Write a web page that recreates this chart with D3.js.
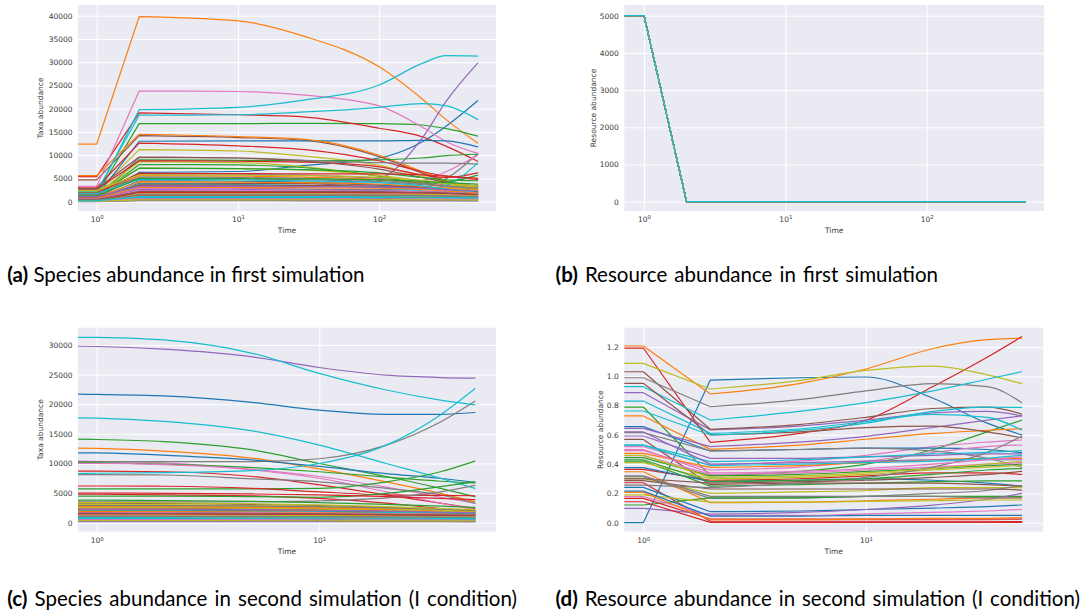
<!DOCTYPE html>
<html>
<head>
<meta charset="utf-8">
<script src="https://cdn.jsdelivr.net/npm/d3@7"></script>
<style>
  body { margin: 0; background: #ffffff; }
  svg { display: block; }
</style>
</head>
<body>
<svg id="fig" width="1089" height="612"></svg>
<script>
// matplotlib "tab10" colour cycle; series i takes colour i % 10
const palette = ["#1f77b4", "#ff7f0e", "#2ca02c", "#d62728", "#9467bd",
                 "#8c564b", "#e377c2", "#7f7f7f", "#bcbd22", "#17becf"];

// ---- first simulation: species (sampled times) ----
const timesA = [0, 1, 2, 10, 30, 100, 200, 300, 499];
const speciesRunA = [
  [800, 800, 6300, 6500, 7800, 9400, 12800, 16300, 21700],
  [12400, 12400, 39800, 38900, 35500, 29000, 22200, 17600, 12600],
  [1500, 1500, 16800, 16800, 16850, 16800, 16500, 15700, 14100],
  [5400, 5400, 19100, 18700, 18200, 15800, 14000, 11900, 8700],
  [900, 900, 1500, 2500, 3300, 5000, 13500, 21700, 29800],
  [4700, 4700, 14200, 13800, 13200, 9700, 6200, 4300, 2500],
  [3300, 3300, 23800, 23700, 22900, 20600, 16100, 12900, 10400],
  [600, 600, 3000, 2900, 2700, 2600, 3000, 5000, 10300],
  [2100, 2100, 11200, 10900, 9800, 7800, 5500, 4200, 3000],
  [1500, 1500, 19800, 20300, 21900, 25100, 29700, 31400, 31300],
  [1200, 1200, 13000, 13100, 13100, 13100, 13200, 13100, 11800],
  [5600, 5600, 14500, 14000, 13400, 10000, 6500, 4500, 2700],
  [1000, 1000, 9000, 8900, 8800, 9000, 9400, 9900, 10200],
  [3000, 3000, 12600, 12000, 11200, 8800, 6500, 5500, 4800],
  [700, 700, 6000, 5900, 5700, 5000, 4300, 3500, 2200],
  [400, 400, 4000, 3950, 3900, 3600, 3200, 2800, 2000],
  [300, 300, 2800, 2900, 3100, 3600, 4500, 6500, 10000],
  [800, 800, 9500, 9400, 8900, 8400, 8300, 8300, 8100],
  [1800, 1800, 8600, 8400, 7500, 5500, 4000, 3200, 2600],
  [2200, 2200, 18600, 18700, 19300, 20300, 21100, 20600, 17700],
  [600, 600, 4500, 4400, 4200, 3600, 2900, 2400, 1800],
  [1700, 1700, 5600, 5500, 5300, 4800, 4000, 3400, 2800],
  [1100, 1100, 8000, 7900, 7300, 5500, 4000, 4200, 5700],
  [2600, 2600, 8800, 8700, 8500, 7500, 5800, 5200, 6200],
  [500, 500, 2600, 2550, 2500, 2400, 2200, 2000, 1600],
  [2800, 2800, 9600, 9400, 8700, 7000, 5200, 4200, 3300],
  [1300, 1300, 3500, 3450, 3400, 3200, 2800, 2500, 2200],
  [2500, 2500, 5000, 4900, 4700, 4300, 3700, 3300, 3500],
  [2000, 2000, 7200, 7100, 6800, 5600, 4500, 3800, 3100],
  [700, 700, 3800, 3700, 3500, 3000, 2500, 3500, 8300],
  [300, 300, 2300, 2280, 2250, 2200, 2100, 2000, 1900],
  [1000, 1000, 4300, 4200, 4100, 3800, 3300, 2900, 2300],
  [1400, 1400, 7200, 7100, 6900, 6200, 5200, 4700, 4500],
  [1900, 1900, 6100, 6050, 6000, 6000, 5800, 5500, 5000],
  [200, 200, 1800, 1780, 1750, 1700, 1600, 1500, 1300],
  [900, 900, 3600, 3550, 3500, 3300, 3000, 2600, 2100],
  [400, 400, 2000, 1980, 1950, 1900, 1800, 1650, 1400],
  [1500, 1500, 5300, 5200, 5000, 4600, 3900, 3300, 2900],
  [2400, 2400, 5800, 5700, 5600, 5200, 4600, 4000, 3400],
  [1800, 1800, 4800, 4700, 4500, 4100, 3400, 2700, 2000],
  [100, 100, 1300, 1290, 1280, 1250, 1200, 1100, 1000],
  [700, 700, 3100, 3050, 3000, 2900, 2600, 2300, 1900],
  [1200, 1200, 5000, 4950, 4900, 4700, 4400, 4100, 3800],
  [200, 200, 1500, 1480, 1450, 1400, 1300, 1200, 1000],
  [1100, 1100, 3300, 3280, 3250, 3150, 2900, 2600, 2300],
  [300, 300, 1000, 990, 980, 950, 900, 850, 700],
  [600, 600, 2400, 2380, 2350, 2300, 2150, 2000, 1700],
  [100, 100, 700, 690, 680, 660, 620, 580, 500],
  [400, 400, 1700, 1690, 1680, 1650, 1580, 1500, 1300],
  [200, 200, 900, 890, 880, 860, 820, 780, 700],
  [50, 50, 500, 495, 490, 480, 460, 440, 400],
  [150, 150, 1200, 1190, 1180, 1150, 1100, 1000, 900],
  [80, 80, 300, 300, 295, 290, 280, 270, 250],
  [250, 250, 2000, 1990, 1980, 1950, 1900, 1800, 1500],
  [30, 30, 200, 200, 198, 195, 190, 185, 170],
  [500, 500, 2200, 2190, 2170, 2100, 2000, 1850, 1600],
  [120, 120, 600, 595, 590, 580, 560, 540, 480],
  [350, 350, 1500, 1490, 1470, 1420, 1350, 1250, 1100],
  [60, 60, 400, 398, 395, 390, 380, 370, 340],
  [180, 180, 1100, 1090, 1080, 1050, 1000, 950, 850]
];

// ---- first simulation: resources (every resource follows the same path) ----
const timesResA = [0, 1, 2, 499];
const resourceLevelsA = [5000, 5000, 0, 0];

// ---- second simulation (I condition) ----
const timesB = [0, 1, 2, 5, 10, 20, 35, 50];
const speciesRunB = [
  [21700, 21650, 21400, 20300, 19000, 18300, 18300, 18600],
  [12600, 12550, 12100, 10900, 9100, 6900, 4950, 3550],
  [14100, 14050, 13700, 12300, 10000, 7800, 5800, 4400],
  [8700, 8700, 8600, 7800, 6400, 4700, 3300, 2400],
  [29800, 29750, 29300, 28000, 26200, 24900, 24500, 24400],
  [2500, 2500, 2450, 2350, 2200, 2000, 1800, 1700],
  [10400, 10350, 10100, 8900, 7500, 5200, 3300, 2200],
  [10300, 10300, 10300, 10300, 10800, 13100, 17000, 20500],
  [3000, 3000, 2900, 2800, 2600, 2300, 2100, 1900],
  [31300, 31300, 30850, 28600, 25200, 22400, 20700, 19900],
  [11800, 11800, 11400, 10600, 9500, 8300, 7500, 6800],
  [2700, 2700, 2650, 2550, 2400, 2200, 2000, 1800],
  [10200, 10150, 9900, 9300, 8600, 7700, 7000, 6700],
  [4800, 4800, 4700, 4550, 4100, 3300, 2400, 1900],
  [2200, 2200, 2150, 2100, 2000, 1900, 1750, 1600],
  [2000, 2000, 1980, 1900, 1800, 1700, 1600, 1500],
  [10000, 10000, 9800, 9000, 7800, 6000, 4300, 3300],
  [8100, 8100, 8050, 7400, 6900, 5800, 4700, 3300],
  [2600, 2600, 2550, 2450, 2300, 2100, 1900, 1700],
  [17700, 17650, 17100, 15500, 13100, 10000, 7500, 5800],
  [1800, 1800, 1780, 1700, 1600, 1500, 1400, 1300],
  [2800, 2800, 2750, 2650, 2500, 2300, 2100, 1900],
  [5700, 5700, 5700, 5700, 5800, 6900, 8600, 10400],
  [6200, 6200, 6150, 5800, 5200, 4700, 4600, 4550],
  [1600, 1600, 1580, 1550, 1500, 1450, 1400, 1350],
  [3300, 3300, 3250, 3100, 2900, 2600, 2300, 2000],
  [2200, 2200, 2150, 2050, 1900, 1700, 1500, 1300],
  [3500, 3500, 3500, 3550, 3700, 4200, 5200, 6300],
  [3100, 3100, 3050, 2900, 2700, 2400, 2100, 1900],
  [8300, 8350, 8450, 8800, 10000, 13100, 18200, 22600],
  [1900, 1900, 1880, 1850, 1800, 1700, 1600, 1550],
  [2300, 2300, 2250, 2150, 2000, 1800, 1600, 1400],
  [4500, 4500, 4500, 4400, 4300, 4950, 6100, 6900],
  [5000, 5000, 4950, 4850, 4700, 4400, 4100, 3900],
  [1300, 1300, 1290, 1270, 1250, 1200, 1150, 1100],
  [2100, 2100, 2080, 2000, 1900, 1800, 1650, 1550],
  [1400, 1400, 1390, 1360, 1320, 1250, 1180, 1100],
  [2900, 2900, 2880, 2800, 2700, 2500, 2300, 2100],
  [3400, 3400, 3350, 3200, 3000, 2700, 2400, 2200],
  [2000, 2000, 1980, 1920, 1850, 1750, 1650, 1600],
  [1000, 1000, 990, 970, 950, 920, 890, 860],
  [1900, 1900, 1880, 1800, 1700, 1550, 1400, 1250],
  [3800, 3800, 3750, 3600, 3400, 3100, 2800, 2600],
  [1000, 1000, 990, 970, 950, 900, 850, 800],
  [2300, 2300, 2280, 2200, 2100, 1950, 1800, 1650],
  [700, 700, 695, 680, 660, 630, 600, 570],
  [1700, 1700, 1690, 1650, 1600, 1500, 1400, 1300],
  [500, 500, 495, 485, 470, 450, 430, 410],
  [1300, 1300, 1290, 1260, 1220, 1160, 1100, 1050],
  [700, 700, 695, 680, 660, 640, 610, 590],
  [400, 400, 398, 390, 380, 365, 350, 340],
  [900, 900, 890, 870, 850, 810, 770, 740],
  [250, 250, 248, 245, 240, 232, 225, 220],
  [1500, 1500, 1480, 1440, 1400, 1320, 1240, 1180],
  [170, 170, 169, 167, 165, 162, 158, 155],
  [1600, 1600, 1580, 1540, 1490, 1410, 1330, 1270],
  [480, 480, 476, 468, 458, 442, 425, 412],
  [1100, 1100, 1090, 1060, 1030, 980, 930, 890],
  [340, 340, 338, 333, 327, 318, 308, 300],
  [850, 850, 843, 825, 805, 775, 745, 720]
];

const resourceRunB = [
  [0, 0, 0.974, 0.99, 0.995, 0.85, 0.68, 0.60],
  [1.207, 1.207, 0.879, 0.95, 1.05, 1.19, 1.25, 1.26],
  [0.790, 0.790, 0.321, 0.35, 0.40, 0.50, 0.62, 0.70],
  [1.193, 1.193, 0.549, 0.61, 0.70, 0.93, 1.13, 1.27],
  [0.888, 0.888, 0.634, 0.66, 0.70, 0.75, 0.76, 0.73],
  [1.031, 1.031, 0.638, 0.67, 0.72, 0.78, 0.79, 0.742],
  [0.519, 0.519, 0.394, 0.42, 0.46, 0.52, 0.55, 0.565],
  [0.990, 0.990, 0.792, 0.84, 0.90, 0.95, 0.93, 0.82],
  [1.088, 1.088, 0.913, 0.97, 1.04, 1.07, 1.01, 0.95],
  [0.929, 0.929, 0.701, 0.76, 0.82, 0.90, 0.98, 1.031],
  [0.656, 0.656, 0.49, 0.50, 0.51, 0.51, 0.50, 0.478],
  [0.729, 0.729, 0.501, 0.53, 0.57, 0.61, 0.63, 0.642],
  [0.444, 0.444, 0.32, 0.33, 0.35, 0.37, 0.39, 0.40],
  [0.364, 0.364, 0.29, 0.30, 0.32, 0.34, 0.34, 0.33],
  [0.644, 0.644, 0.52, 0.55, 0.59, 0.65, 0.70, 0.73],
  [0.952, 0.952, 0.60, 0.62, 0.65, 0.66, 0.62, 0.58],
  [0.492, 0.492, 0.36, 0.38, 0.42, 0.48, 0.52, 0.53],
  [0.615, 0.615, 0.490, 0.50, 0.51, 0.49, 0.44, 0.38],
  [0.303, 0.303, 0.200, 0.21, 0.22, 0.24, 0.24, 0.24],
  [0.831, 0.831, 0.610, 0.64, 0.69, 0.74, 0.72, 0.633],
  [0.376, 0.376, 0.28, 0.29, 0.30, 0.29, 0.27, 0.25],
  [0.474, 0.474, 0.378, 0.39, 0.41, 0.43, 0.44, 0.44],
  [0.421, 0.421, 0.25, 0.26, 0.27, 0.28, 0.285, 0.285],
  [0.273, 0.273, 0.01, 0.01, 0.01, 0.01, 0.01, 0.007],
  [0.592, 0.592, 0.439, 0.44, 0.45, 0.46, 0.47, 0.47],
  [0.569, 0.569, 0.26, 0.27, 0.27, 0.27, 0.26, 0.25],
  [0.458, 0.458, 0.33, 0.34, 0.36, 0.38, 0.40, 0.41],
  [0.314, 0.314, 0.166, 0.17, 0.18, 0.20, 0.22, 0.253],
  [0.410, 0.410, 0.30, 0.31, 0.33, 0.36, 0.38, 0.39],
  [0.763, 0.763, 0.599, 0.63, 0.68, 0.76, 0.79, 0.788],
  [0.241, 0.241, 0.075, 0.08, 0.09, 0.10, 0.11, 0.121],
  [0.348, 0.348, 0.137, 0.14, 0.15, 0.16, 0.17, 0.17],
  [0.121, 0.121, 0.17, 0.17, 0.18, 0.18, 0.18, 0.18],
  [0.166, 0.166, 0.025, 0.025, 0.025, 0.025, 0.025, 0.025],
  [0.098, 0.098, 0.059, 0.07, 0.09, 0.12, 0.16, 0.20],
  [0.287, 0.287, 0.23, 0.23, 0.23, 0.23, 0.23, 0.223],
  [0.178, 0.178, 0.05, 0.05, 0.06, 0.07, 0.08, 0.09],
  [0.257, 0.257, 0.24, 0.27, 0.31, 0.38, 0.48, 0.59],
  [0.19, 0.19, 0.14, 0.14, 0.145, 0.15, 0.155, 0.155],
  [0.530, 0.530, 0.417, 0.43, 0.45, 0.47, 0.48, 0.492],
  [0.216, 0.216, 0.045, 0.045, 0.05, 0.05, 0.05, 0.05],
  [0.207, 0.207, 0.02, 0.02, 0.025, 0.03, 0.03, 0.035],
  [0.43, 0.43, 0.28, 0.29, 0.30, 0.33, 0.36, 0.37],
  [0.143, 0.143, 0.002, 0.002, 0.002, 0.002, 0.002, 0.002],
  [0.62, 0.62, 0.40, 0.41, 0.42, 0.43, 0.43, 0.43],
  [0.30, 0.30, 0.27, 0.28, 0.29, 0.31, 0.33, 0.35],
  [0.50, 0.50, 0.34, 0.35, 0.37, 0.40, 0.43, 0.45],
  [0.32, 0.32, 0.18, 0.18, 0.18, 0.18, 0.17, 0.17],
  [0.46, 0.46, 0.31, 0.32, 0.34, 0.37, 0.40, 0.42],
  [0.53, 0.53, 0.39, 0.40, 0.41, 0.42, 0.44, 0.46]
];

// ---- tick values and captions ----
const timeTicksA = [1, 10, 100];
const timeTicksB = [1, 10];
const yTicksSpeciesA = [0, 5000, 10000, 15000, 20000, 25000, 30000, 35000, 40000];
const yTicksResourceA = [0, 1000, 2000, 3000, 4000, 5000];
const yTicksSpeciesB = [0, 5000, 10000, 15000, 20000, 25000, 30000];
const yTicksResourceB = [0, 0.2, 0.4, 0.6, 0.8, 1.0, 1.2];
const captions = [
  ["(a)", " Species abundance in first simulation"],
  ["(b)", " Resource abundance in first simulation"],
  ["(c)", " Species abundance in second simulation (I condition)"],
  ["(d)", " Resource abundance in second simulation (I condition)"]
];

const svg = d3.select("#fig");
const tickFont = "DejaVu Sans";
const tickSize = 7.5;
const textColor = "#3a3a3a";

function drawPanel(cfg) {
  const b = cfg.box;
  const w = b.right - b.left, h = b.bottom - b.top;
  const x = d3.scaleLog().domain(cfg.xDomain).range(cfg.xRange);
  const y = d3.scaleLinear().domain(cfg.yDomain).range(cfg.yRange);
  const g = svg.append("g");

  g.append("clipPath").attr("id", "clip-" + cfg.name)
    .append("rect").attr("x", b.left).attr("y", b.top).attr("width", w).attr("height", h);

  g.append("rect").attr("x", b.left).attr("y", b.top).attr("width", w).attr("height", h)
    .attr("fill", "#eaeaf2");

  // y axis with full-width white grid lines
  const ya = g.append("g").attr("transform", `translate(${b.left},0)`)
    .call(d3.axisLeft(y).tickValues(cfg.yTicks).tickSize(-w).tickPadding(5.5).tickFormat(cfg.yFormat));
  ya.select(".domain").remove();
  ya.selectAll(".tick line").attr("stroke", "#ffffff").attr("stroke-width", 1);
  ya.selectAll(".tick text").attr("font-family", tickFont).attr("font-size", tickSize).attr("fill", textColor);

  // x axis (log) with full-height white grid lines and 10^n labels
  const xa = g.append("g").attr("transform", `translate(0,${b.bottom})`)
    .call(d3.axisBottom(x).tickValues(cfg.xTicks).tickSize(-h).tickPadding(cfg.xPad).tickFormat(""));
  xa.select(".domain").remove();
  xa.selectAll(".tick line").attr("stroke", "#ffffff").attr("stroke-width", 1);
  xa.selectAll(".tick text").each(function (d) {
    const t = d3.select(this).attr("font-family", tickFont).attr("font-size", tickSize).attr("fill", textColor);
    t.text("10");
    t.append("tspan").attr("dy", "-0.5em").attr("font-size", "0.72em").text(Math.round(Math.log10(d)));
  });

  g.append("text").attr("x", (b.left + b.right) / 2).attr("y", b.bottom + cfg.timeOffset)
    .attr("text-anchor", "middle").attr("font-family", tickFont).attr("font-size", tickSize)
    .attr("fill", textColor).text("Time");
  g.append("text")
    .attr("transform", `translate(${cfg.ylabelX},${(b.top + b.bottom) / 2}) rotate(-90)`)
    .attr("text-anchor", "middle").attr("font-family", tickFont).attr("font-size", tickSize)
    .attr("fill", textColor).text(cfg.ylabel);

  // series: time 0 sits at the clipped left edge of the log axis
  const px = t => (t > 0 ? x(t) : b.left - 3);
  const straight = d3.line();
  const smooth = d3.line().curve(d3.curveMonotoneX);
  const lines = g.append("g").attr("clip-path", `url(#clip-${cfg.name})`)
    .attr("fill", "none").attr("stroke-width", 1.2).attr("stroke-linejoin", "round").attr("stroke-linecap", "round");

  cfg.series.forEach((vals, i) => {
    const pts = cfg.times.map((t, k) => [px(t), y(vals[k])]);
    let d;
    if (cfg.kink != null) {
      const head = straight(pts.slice(0, cfg.kink + 1));
      const tail = smooth(pts.slice(cfg.kink)).replace(/^M[^CLZ]*/, "");
      d = head + tail;
    } else {
      d = smooth(pts);
    }
    lines.append("path").attr("d", d).attr("stroke", palette[i % 10]);
  });
}

// (a) species, first simulation
drawPanel({
  name: "a",
  box: { left: 78, right: 496, top: 5, bottom: 211 },
  xDomain: [1, 100], xRange: [96.7, 379.1], xTicks: timeTicksA,
  yDomain: [0, 40000], yRange: [201.7, 15.7],
  yTicks: yTicksSpeciesA, yFormat: d3.format("d"),
  xPad: 5.2, timeOffset: 22.3, ylabelX: 43, ylabel: "Taxa abundance",
  times: timesA, series: speciesRunA, kink: 2
});

// (b) resources, first simulation
drawPanel({
  name: "b",
  box: { left: 624.3, right: 1044, top: 5, bottom: 211 },
  xDomain: [1, 100], xRange: [644, 926.7], xTicks: timeTicksA,
  yDomain: [0, 5000], yRange: [201.7, 15.7],
  yTicks: yTicksResourceA, yFormat: d3.format("d"),
  xPad: 5.2, timeOffset: 22.3, ylabelX: 595.5, ylabel: "Resource abundance",
  times: timesResA, series: resourceRunB.map(() => resourceLevelsA), kink: 2
});

// (c) species, second simulation
drawPanel({
  name: "c",
  box: { left: 78, right: 496, top: 327.7, bottom: 531.7 },
  xDomain: [1, 10], xRange: [96.7, 319.3], xTicks: timeTicksB,
  yDomain: [0, 30000], yRange: [522.7, 345],
  yTicks: yTicksSpeciesB, yFormat: d3.format("d"),
  xPad: 6.2, timeOffset: 22.6, ylabelX: 43, ylabel: "Taxa abundance",
  times: timesB, series: speciesRunB, kink: null
});

// (d) resources, second simulation
drawPanel({
  name: "d",
  box: { left: 624.3, right: 1043.3, top: 327.7, bottom: 531.7 },
  xDomain: [1, 10], xRange: [643.3, 866], xTicks: timeTicksB,
  yDomain: [0, 1.2], yRange: [522.7, 347],
  yTicks: yTicksResourceB, yFormat: d3.format(".1f"),
  xPad: 6.2, timeOffset: 22.6, ylabelX: 603, ylabel: "Resource abundance",
  times: timesB, series: resourceRunB, kink: 2
});

// sub-figure captions: left edge, baseline and right edge of each line
const capLayout = [[7.3, 282, 358], [555.5, 282, 938], [7.3, 606, 517], [555.5, 606, 1080]];
captions.forEach((c, i) => {
  const [cx, cy, cEnd] = capLayout[i];
  const t = svg.append("text").attr("x", cx).attr("y", cy)
    .attr("font-family", "Lato").attr("font-size", 20.5).attr("fill", "#000000");
  t.append("tspan").attr("font-weight", "bold").text(c[0]);
  t.append("tspan").text(c[1]);
  // spread the words so the line reaches its right edge
  const natural = t.node().getComputedTextLength();
  const gaps = (c[1].match(/ /g) || []).length;
  const extra = (cEnd - cx - natural) / gaps;
  if (extra > 0) t.attr("word-spacing", extra.toFixed(2));
});
</script>
</body>
</html>
